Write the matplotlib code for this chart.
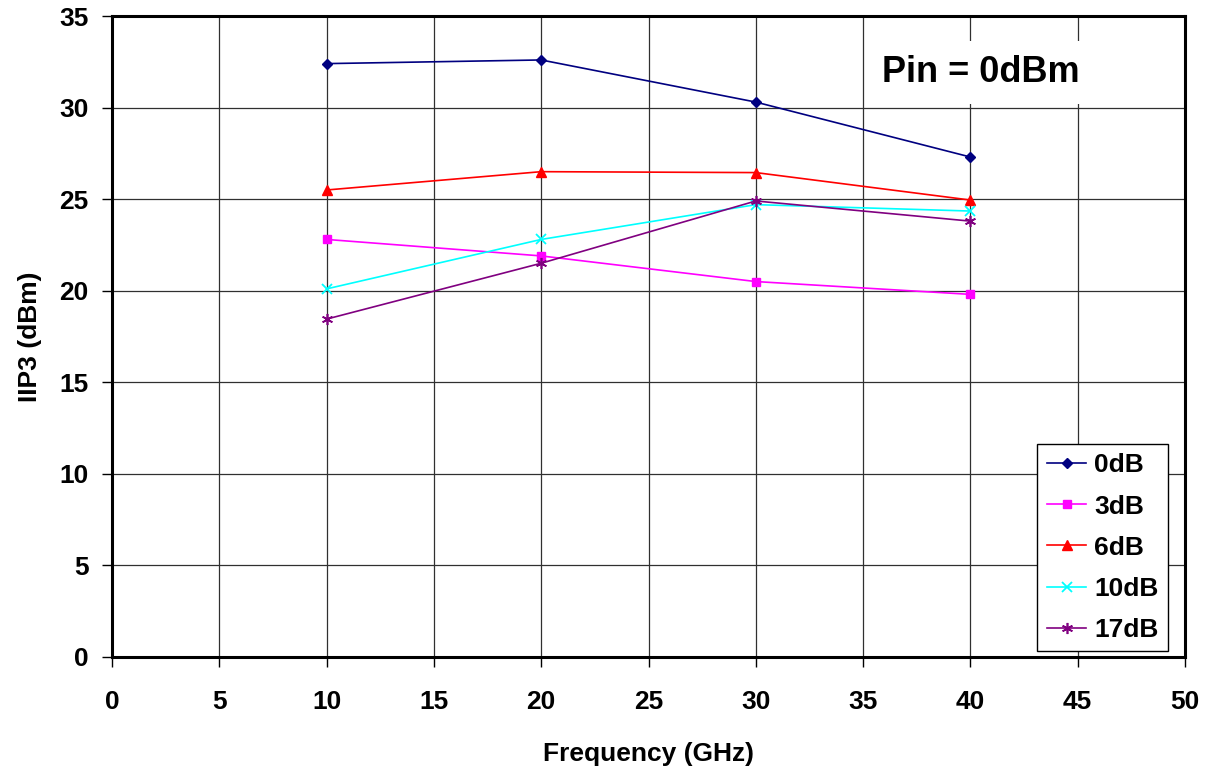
import matplotlib
matplotlib.use("Agg")
import matplotlib.pyplot as plt

plt.rcParams['font.family'] = ['Liberation Sans', 'DejaVu Sans']
plt.rcParams['font.weight'] = 'bold'

freq = [10, 20, 30, 40]
iip3_0db = [32.4, 32.6, 30.3, 27.3]
iip3_3db = [22.8, 21.9, 20.5, 19.8]
iip3_6db = [25.5, 26.5, 26.45, 24.95]
iip3_10db = [20.1, 22.8, 24.7, 24.35]
iip3_17db = [18.45, 21.5, 24.9, 23.8]

fig = plt.figure(figsize=(12.06, 7.72), dpi=100)
ax = fig.add_axes([112 / 1206, 1 - 657 / 772, (1185 - 112) / 1206, (657 - 16) / 772])

ax.plot(freq, iip3_0db, color='#000080', marker='D', markersize=5, lw=1.2, label='0dB')
ax.plot(freq, iip3_3db, color='#ff00ff', marker='s', markersize=6, lw=1.2, label='3dB')
ax.plot(freq, iip3_6db, color='#ff0000', marker='^', markersize=7, lw=1.2, label='6dB')
ax.plot(freq, iip3_10db, color='#00ffff', marker='x', markersize=7, mew=1.3, lw=1.2, label='10dB')
ax.plot(freq, iip3_17db, color='#800080', marker=(6, 2, 0), markersize=8, mew=1.2, lw=1.2, label='17dB')

ax.set_xlim(0, 50)
ax.set_ylim(0, 35)
ax.set_xticks(range(0, 51, 5))
ax.set_yticks(range(0, 36, 5))
ax.grid(True, color='#303030', lw=0.9)
ax.set_axisbelow(True)
for s in ax.spines.values():
    s.set_linewidth(2.2)
ax.tick_params(axis='both', labelsize=19, direction='out', length=7, width=1)
ax.tick_params(axis='x', pad=17)
ax.tick_params(axis='y', pad=10)
for lab in ax.get_xticklabels() + ax.get_yticklabels():
    lab.set_fontweight('bold')

ax.set_xlabel('Frequency (GHz)', fontsize=19, fontweight='bold', labelpad=20)
ax.set_ylabel('IIP3 (dBm)', fontsize=19, fontweight='bold', labelpad=12)

ax.text(0.81, 0.912, 'Pin = 0dBm', transform=ax.transAxes, fontsize=26, fontweight='bold',
        ha='center', va='center', zorder=1.5,
        bbox=dict(facecolor='white', edgecolor='none', pad=10))

leg = ax.legend(loc='lower right', bbox_to_anchor=(0.984, 0.009), fontsize=19, frameon=True,
                fancybox=False, edgecolor='black', framealpha=1, borderpad=0.35,
                handlelength=1.5, handletextpad=0.3, labelspacing=0.65, borderaxespad=0)
leg.get_frame().set_linewidth(1)
for t in leg.get_texts():
    t.set_fontweight('bold')

fig.savefig('out.png', dpi=100)
